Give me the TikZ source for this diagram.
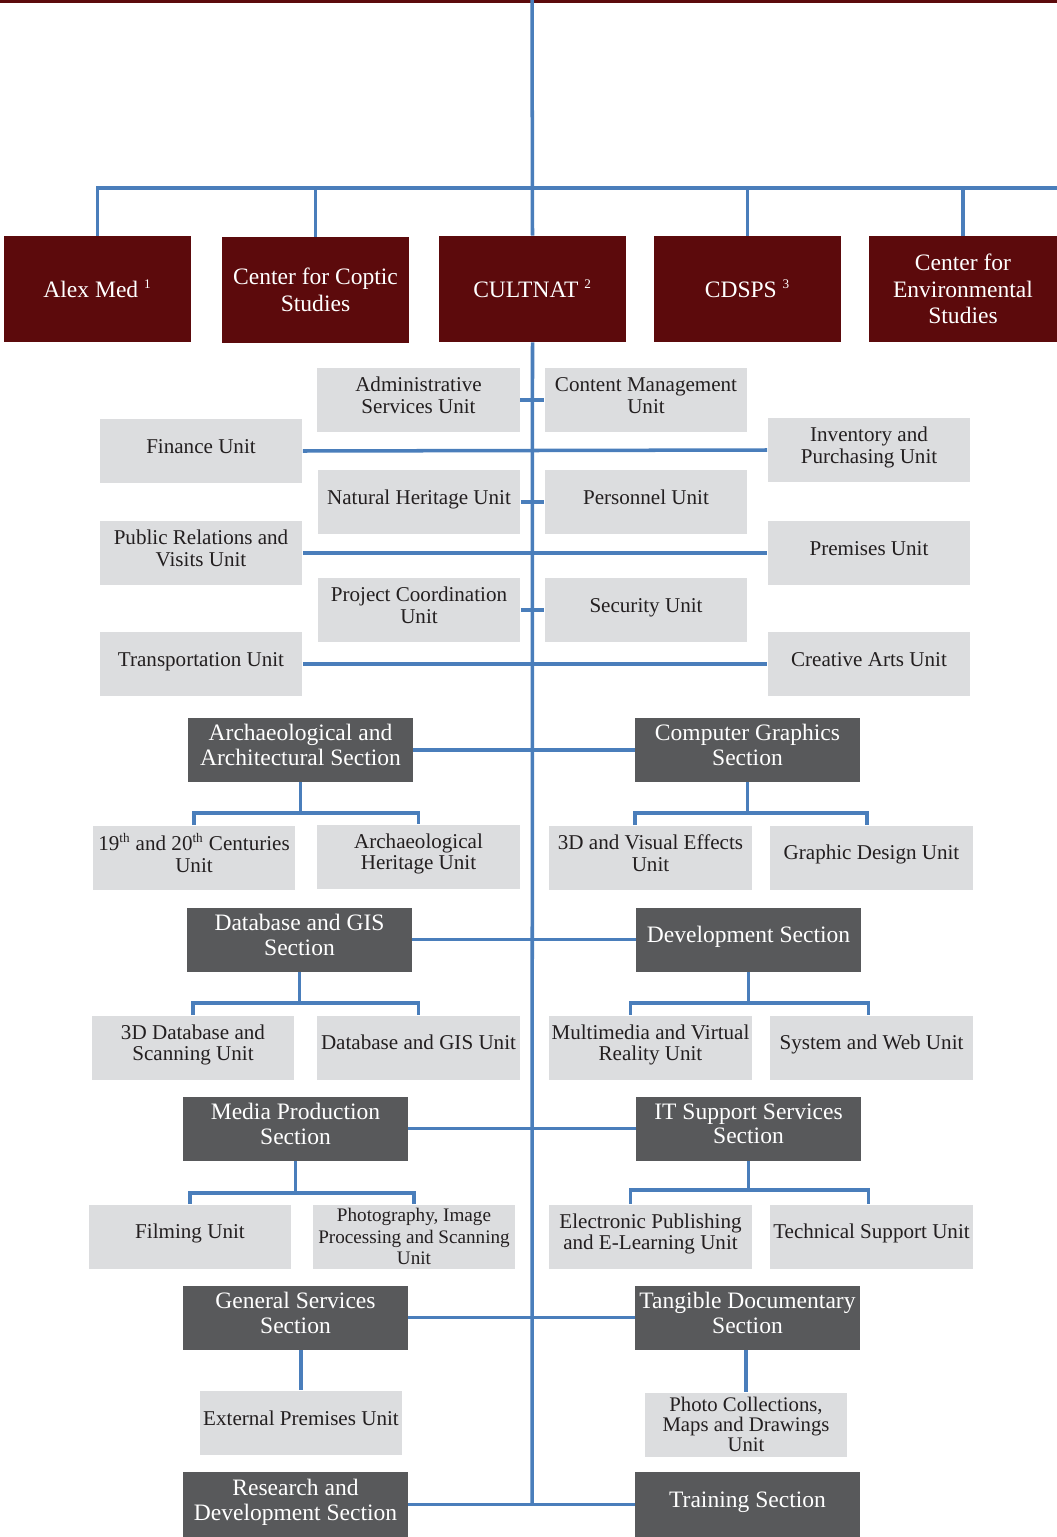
\documentclass[tikz,border=0pt]{standalone}
\usepackage{fontspec}
\setmainfont{Liberation Serif}
\usetikzlibrary{positioning,calc}
\definecolor{cmaroon}{HTML}{5C0A0C}
\definecolor{cdark}{HTML}{58595B}
\definecolor{cgrey}{HTML}{DCDDDF}
\definecolor{cblue}{HTML}{4A7EBB}
\definecolor{ctext}{HTML}{231F20}
\newcommand{\sps}[1]{\textsuperscript{\fontsize{7.5}{7.5}\selectfont #1}}
\newcommand{\lowstrut}{\rule[-5.5pt]{0pt}{0pt}}

\begin{document}
\begin{tikzpicture}[x=0.02cm,y=-0.02cm,
  inst/.style={fill=cmaroon,text=white,minimum width=3.74cm,minimum height=2.12cm,inner sep=1pt,align=center,font=\fontsize{13.4}{15}\selectfont},
  sec/.style={fill=cdark,text=white,minimum width=4.5cm,minimum height=1.28cm,inner sep=1pt,align=center,font=\fontsize{13.4}{14.2}\selectfont,execute at end node=\lowstrut},
  ubox/.style={fill=cgrey,text=ctext,minimum width=4.06cm,minimum height=1.28cm,inner sep=1pt,align=center,font=\fontsize{12}{12.5}\selectfont},
  unit/.style={ubox,execute at end node=\lowstrut},
  link/.style={draw=cblue,line width=2pt}]
\useasboundingbox (0,0) rectangle (1057,1537);
\fill[cmaroon] (0,0) rectangle (1057,3);

\node[inst] (alex) at (97.5,289) {Alex Med \sps{1}};
\node[inst] (copt) at (315.5,290) {Center for Coptic\\Studies};
\node[inst] (cult) at (532.5,289) {CULTNAT \sps{2}};
\node[inst] (cdsps) at (747.5,289) {CDSPS \sps{3}};
\node[inst,minimum width=3.76cm] (env) at (963,289) {Center for\\Environmental\\Studies};

\node[unit] (adm) at (418.5,400) {Administrative\\Services Unit};
\node[unit] (cm) at (646,400) {Content Management\\Unit};
\node[unit] (fin) at (201,451) {Finance Unit};
\node[unit] (inv) at (869,450) {Inventory and\\Purchasing Unit};
\node[unit] (nh) at (419,502) {Natural Heritage Unit};
\node[unit] (pers) at (646,502) {Personnel Unit};
\node[unit] (pr) at (201,553) {Public Relations and\\Visits Unit};
\node[unit] (prem) at (869,553) {Premises Unit};
\node[unit] (pc) at (419,610) {Project Coordination\\Unit};
\node[unit] (sec) at (646,610) {Security Unit};
\node[unit] (trans) at (201,664) {Transportation Unit};
\node[unit] (ca) at (869,664) {Creative Arts Unit};

\node[sec] (arch) at (300.5,750) {Archaeological and\\Architectural Section};
\node[sec] (cg) at (747.5,750) {Computer Graphics\\Section};
\node[unit] (u19) at (194,857.5) {19\sps{th} and 20\sps{th} Centuries\\Unit};
\node[unit] (ah) at (418.5,856.5) {Archaeological\\Heritage Unit};
\node[unit] (vfx) at (650.5,857.5) {3D and Visual Effects\\Unit};
\node[unit] (gd) at (871.5,857.5) {Graphic Design Unit};

\node[sec] (db) at (299.5,939.5) {Database and GIS\\Section};
\node[sec] (dev) at (748.5,939.5) {Development Section};
\node[unit] (db3) at (193,1047.5) {3D Database and\\Scanning Unit};
\node[unit] (dbu) at (418.5,1047.5) {Database and GIS Unit};
\node[unit] (mm) at (650.5,1047.5) {Multimedia and Virtual\\Reality Unit};
\node[unit] (sw) at (871.5,1047.5) {System and Web Unit};

\node[sec] (mp) at (295.5,1128.5) {Media Production\\Section};
\node[sec] (its) at (748.5,1128.5) {IT Support Services\\Section};
\node[unit] (fil) at (190,1236.5) {Filming Unit};
\node[ubox,font=\fontsize{10.9}{12.4}\selectfont] (ph) at (414,1236.5) {Photography, Image\\Processing and Scanning\\Unit};
\node[unit] (ep) at (650.5,1236.5) {Electronic Publishing\\and E-Learning Unit};
\node[unit] (ts) at (871.5,1236.5) {Technical Support Unit};

\node[sec] (gs) at (295.5,1317.5) {General Services\\Section};
\node[sec] (td) at (747.5,1317.5) {Tangible Documentary\\Section};
\node[unit] (ext) at (301,1422.5) {External Premises Unit};
\node[ubox,font=\fontsize{11.8}{11.3}\selectfont] (pcm) at (746,1424.5) {Photo Collections,\\Maps and Drawings\\Unit};

\node[sec,minimum height=1.3cm] (rd) at (295.5,1504.5) {Research and\\Development Section};
\node[sec,minimum height=1.3cm] (tr) at (747.5,1504.5) {Training Section};

\coordinate (top) at (532,0);
\coordinate (bar) at (532,188);
\coordinate (barR) at (1057,188);
\coordinate (bot) at (532,1503);
\coordinate (b1) at (300.5,813);
\coordinate (b2) at (747.5,813);
\coordinate (b3) at (299.5,1003);
\coordinate (b4) at (748.5,1003);
\coordinate (b5) at (295.5,1193);
\coordinate (b6) at (748.5,1190);

\draw[link] (top) -- (cult.north);
\draw[link] (alex.north) |- (barR);
\draw[link] (copt.north) -- (copt.north |- bar);
\draw[link] (cdsps.north) -- (cdsps.north |- bar);
\draw[link] (env.north) -- (env.north |- bar);
\draw[link] (cult.south) -- (bot);

\draw[link] (adm.east) -- (cm.west); \draw[link] (fin.east) -- (inv.west);
\draw[link] (nh.east) -- (pers.west); \draw[link] (pr.east) -- (prem.west);
\draw[link] (pc.east) -- (sec.west); \draw[link] (trans.east) -- (ca.west);

\draw[link] (arch.east) -- (cg.west);
\draw[link] (arch.south) -- (b1); \draw[link] (u19.north) |- (b1) -| (ah.north);
\draw[link] (cg.south) -- (b2); \draw[link] ([xshift=-0.31cm]vfx.north) |- (b2) -| ([xshift=-0.09cm]gd.north);

\draw[link] (db.east) -- (dev.west);
\draw[link] (db.south) -- (b3); \draw[link] (db3.north) |- (b3) -| (dbu.north);
\draw[link] (dev.south) -- (b4); \draw[link] ([xshift=-0.4cm]mm.north) |- (b4) -| ([xshift=-0.06cm]sw.north);

\draw[link] (mp.east) -- (its.west);
\draw[link] (mp.south) -- (b5); \draw[link] (fil.north) |- (b5) -| (ph.north);
\draw[link] (its.south) -- (b6); \draw[link] ([xshift=-0.4cm]ep.north) |- (b6) -| ([xshift=-0.06cm]ts.north);

\draw[link] (gs.east) -- (td.west);
\draw[link] (gs.south -| ext.north) -- (ext.north);
\draw[link] (td.south -| pcm.north) -- (pcm.north);

\draw[link] (rd.east) -- (tr.west);
\end{tikzpicture}
\end{document}
